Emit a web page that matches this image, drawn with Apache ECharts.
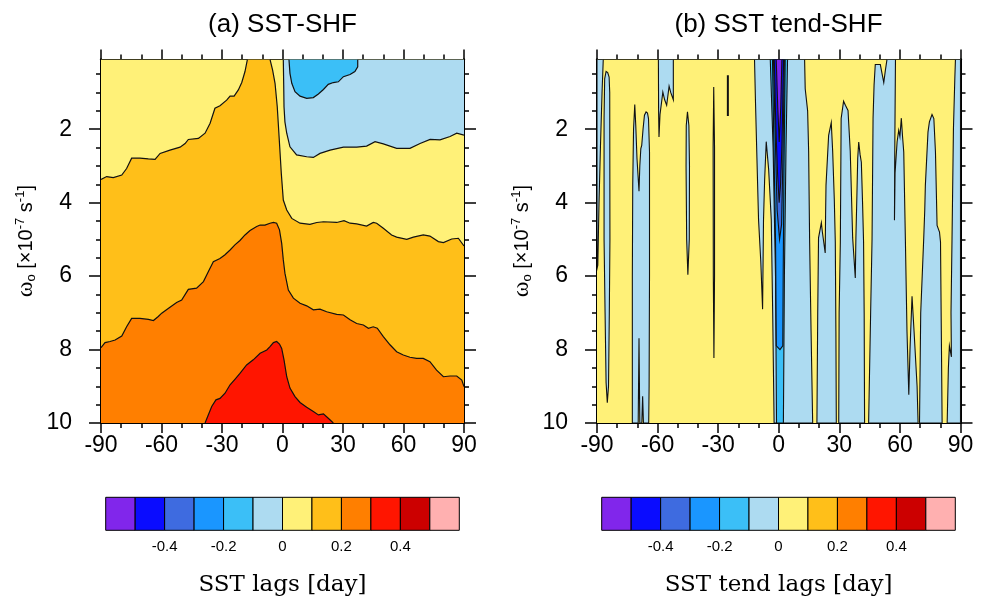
<!DOCTYPE html>
<html>
<head>
<meta charset="utf-8">
<script src="https://cdn.jsdelivr.net/npm/echarts@6/dist/echarts.min.js"></script>
<style>
html,body{margin:0;padding:0;background:#fff}
#chart{width:986px;height:599px}
</style>
</head>
<body>
<div id="chart"></div>
<script>
// ---------- axes ----------
const lagTicks = [-90, -60, -30, 0, 30, 60, 90];
const omegaMajor = [2, 4, 6, 8, 10];
const omegaMinor = [0.5, 1, 1.5, 2.5, 3, 3.5, 4.5, 5, 5.5, 6.5, 7, 7.5, 8.5, 9, 9.5];

// ---------- contour levels (colour bar) ----------
const levelEdges = [-0.6, -0.5, -0.4, -0.3, -0.2, -0.1, 0, 0.1, 0.2, 0.3, 0.4, 0.5, 0.6];
const levelColors = ['#8126EB', '#0A0CFF', '#3E6BE0', '#1A96FF', '#3BBFF7', '#ADDBF1',
                     '#FFF178', '#FFBF19', '#FF7F00', '#FF1500', '#CC0000', '#FFB0B0'];
const levelTicks = [-0.4, -0.2, 0, 0.2, 0.4];

// ---------- (a) SST-SHF : contour lines [lag (day), omega_o] ----------
// 0.1 contour, west branch
const shfC01West = [[-90.0,3.37],[-87.2,3.29],[-83.9,3.32],[-79.7,3.25],[-77.3,3.07],[-74.8,2.79],[-70.7,2.79],
  [-66.5,2.81],[-63.2,2.82],[-60.7,2.66],[-55.8,2.57],[-50.8,2.49],[-48.3,2.39],[-46.7,2.28],[-41.7,2.25],
  [-38.4,2.11],[-35.9,1.84],[-33.5,1.43],[-31.0,1.36],[-27.7,1.21],[-26.0,1.10],[-24.0,1.10],[-21.9,0.93],
  [-20.2,0.73],[-18.6,0.43],[-17.4,0.1]];
// 0.1 contour, east branch
const shfC01East = [[-6.2,0.1],[-4.9,0.39],[-3.7,0.75],[-2.6,1.39],[-1.6,2.29],[-0.6,3.20],[0.4,3.93],[2.1,4.20],
  [4.6,4.43],[8.7,4.56],[13.6,4.59],[17.0,4.54],[20.3,4.52],[26.9,4.54],[30.5,4.49],[33.5,4.56],[36.8,4.58],
  [41.7,4.64],[45.0,4.54],[46.7,4.56],[50.0,4.70],[54.1,4.88],[56.6,4.94],[61.6,5.00],[64.9,4.94],[69.8,4.88],
  [73.1,4.91],[77.3,5.06],[79.8,5.09],[83.9,4.99],[87.2,4.97],[90.0,5.18]];
// 0 contour
const shfC00 = [[0.4,0.1],[0.6,0.8],[0.75,1.39],[1.2,1.8],[2.1,2.11],[3.7,2.48],[7.0,2.70],[12.0,2.75],[15.3,2.77],
  [18.6,2.66],[23.6,2.57],[30.2,2.49],[36.8,2.49],[41.7,2.46],[45.9,2.34],[50.0,2.40],[56.6,2.52],[63.2,2.52],
  [68.2,2.39],[73.2,2.28],[78.1,2.29],[83.1,2.20],[86.4,2.11],[90.0,2.16]];
// -0.1 contour
const shfCm01 = [[3.2,0.1],[3.7,0.48],[4.6,0.75],[6.2,0.98],[8.7,1.10],[12.0,1.16],[15.3,1.14],[17.8,1.04],
  [20.3,0.92],[22.7,0.78],[25.2,0.73],[27.7,0.71],[30.2,0.57],[33.5,0.51],[35.9,0.43],[37.3,0.30],[37.3,0.1]];
// 0.2 contour
const shfC02 = [[-90.0,7.95],[-88.0,7.81],[-85.5,7.78],[-83.0,7.74],[-79.7,7.63],[-77.3,7.38],[-74.8,7.15],
  [-70.7,7.15],[-66.5,7.18],[-64.0,7.21],[-61.6,7.10],[-59.9,7.01],[-55.8,6.85],[-52.5,6.72],[-50.0,6.65],
  [-46.7,6.36],[-42.6,6.33],[-39.2,6.15],[-36.8,5.88],[-34.3,5.61],[-31.0,5.52],[-28.5,5.42],[-26.0,5.29],
  [-23.6,5.15],[-21.1,5.03],[-18.6,4.88],[-16.1,4.76],[-12.8,4.65],[-11.1,4.61],[-8.7,4.61],[-6.2,4.56],
  [-4.5,4.54],[-2.9,4.56],[-1.5,4.74],[-0.4,5.11],[0.4,5.56],[1.2,5.92],[2.9,6.38],[5.4,6.60],[8.7,6.74],
  [12.0,6.81],[15.3,6.92],[18.6,6.90],[21.9,6.97],[26.9,7.04],[30.2,7.06],[33.5,7.19],[36.8,7.29],[40.1,7.33],
  [42.6,7.42],[45.0,7.38],[47.0,7.42],[50.0,7.65],[53.3,7.87],[56.6,8.06],[59.9,8.15],[63.2,8.21],[66.5,8.24],
  [69.8,8.24],[73.1,8.33],[76.4,8.56],[79.8,8.74],[83.1,8.72],[86.4,8.72],[88.9,8.83],[90.0,9.01]];
// 0.3 contour
const shfC03 = [[-38.4,10.0],[-36.8,9.78],[-35.1,9.55],[-33.0,9.37],[-31.0,9.33],[-28.5,9.19],[-26.0,8.96],
  [-23.6,8.81],[-21.1,8.65],[-17.8,8.42],[-14.5,8.28],[-11.1,8.10],[-7.8,8.01],[-6.2,7.92],[-4.5,7.81],
  [-2.9,7.78],[-1.5,7.85],[-0.4,7.97],[0.75,8.28],[2.1,8.74],[3.7,9.05],[6.2,9.28],[8.7,9.44],[12.0,9.57],
  [15.3,9.69],[17.8,9.78],[20.3,9.75],[22.7,9.87],[25.2,10.0]];

// ---------- (b) SST tend-SHF : regions below 0 (outlines) ----------
const tendWestEdge = [[-90,0.1],[-86.9,0.1],[-87.5,1.0],[-88.3,2.5],[-89.0,4.0],[-89.6,5.7],[-90,5.8]];
const tendLensA = [[-85.5,0.43],[-84.7,0.46],[-84.0,0.58],[-83.7,1.0],[-83.6,5.0],[-83.9,7.0],[-84.3,9.0],
  [-84.9,9.45],[-85.5,8.9],[-86.0,7.0],[-86.5,5.0],[-86.5,1.7],[-86.2,0.63]];
const tendColumnB = [[-72.5,10],[-72.5,6],[-72.3,3.5],[-71.9,2.0],[-71.3,1.33],[-70.8,1.9],[-70.2,2.8],
  [-69.2,3.69],[-68.8,3.0],[-68.3,2.53],[-67.85,2.44],[-67.2,2.0],[-66.5,1.62],[-65.7,1.53],[-65.0,1.56],
  [-64.5,1.71],[-64.0,2.62],[-64.0,6],[-64.2,9],[-64.4,10],[-67.0,10],[-67.4,9.27],[-67.8,10],[-68.8,10],
  [-69.2,7.69],[-69.6,10]];
const tendHangC = [[-59.6,0.1],[-59.5,1.5],[-59.3,2.21],[-58.8,1.6],[-57.4,0.99],[-56.5,1.2],[-55.5,1.35],
  [-54.3,0.83],[-53.5,1.0],[-52.2,1.2],[-52.2,0.1]];
const tendLensD = [[-45.2,1.53],[-44.5,1.9],[-44.2,3.0],[-44.3,5.0],[-45.0,5.96],[-45.6,5.0],[-45.9,3.0],[-45.8,1.9]];
const tendLensE = [[-32.2,0.85],[-31.8,2.5],[-31.8,6.0],[-32.1,8.23],[-32.4,6.0],[-32.5,2.5]];
const tendDashF = [[-25.2,0.53],[-25.2,1.64]];
const tendCore = [[-12.0,0.1],[12.8,0.1],[13.1,0.9],[14.3,1.5],[14.8,2.6],[15.3,5.1],[16.0,7.5],[16.8,10],
  [-2.3,10],[-3.0,7.0],[-3.7,4.47],[-5.0,3.1],[-6.2,2.34],[-7.0,3.4],[-7.55,4.47],[-8.0,6.9],[-8.9,5.6],
  [-10.0,4.47],[-10.8,2.8],[-11.5,1.3]];
const tendSpikeG = [[18.9,10],[19.3,7],[19.7,4.96],[21.1,4.55],[21.6,4.8],[23.0,5.37],[23.2,4.3],[23.4,3.53],
  [24.7,2.17],[26.0,1.82],[26.7,2.6],[27.5,3.9],[28.0,5.07],[28.3,7.5],[28.5,10]];
const tendSpikeH = [[29.7,10],[29.9,7],[30.5,5.07],[30.9,1.71],[32.1,1.24],[33.0,1.35],[34.3,1.49],[35.4,2.6],
  [36.6,4.96],[37.9,6.05],[38.2,4.96],[38.7,3.8],[39.1,2.8],[39.6,2.35],[40.3,2.7],[40.9,2.9],[41.5,4.0],
  [42.0,5.07],[42.3,7],[42.5,10]];
const tendBlockI = [[44.5,10],[45.5,7],[46.2,5.0],[46.7,1.7],[47.2,0.8],[47.8,0.24],[50.3,0.24],[51.2,0.5],
  [52.0,0.73],[52.8,0.4],[53.6,0.1],[57.8,0.1],[57.6,1.5],[57.4,3.0],[57.3,4.48],[57.6,3.2],[58.6,2.35],
  [59.4,2.03],[60.0,2.2],[60.7,1.7],[61.3,2.2],[61.9,2.62],[62.7,5.0],[63.5,7.5],[64.4,9.23],[65.0,8.0],
  [66.0,6.55],[67.0,7.5],[68.5,9.0],[69.0,10]];
const tendSpikeJ = [[69.7,10],[70.3,7],[71.8,4.96],[72.3,4.2],[72.6,3.53],[73.9,2.08],[74.6,1.8],[75.9,1.6],
  [76.8,1.71],[77.6,2.62],[78.4,4.62],[79.6,4.8],[80.1,5.07],[80.5,7.5],[80.9,10]];
const tendEastEdge = [[87.5,0.1],[90,0.1],[90,10],[83.4,10],[84.0,8.5],[84.5,7.9],[85.5,8.2],[85.3,7.0],
  [85.8,5.0],[86.5,2.0],[87.2,0.6]];
// deeper negative levels around zero lag
const tendCoreM01 = [[-4.2,0.1],[4.35,0.1],[3.6,2.5],[2.8,6],[2.3,10],[-1.1,10],[-1.6,6],[-2.8,2.5]];
const tendCoreM02 = [[-3.1,0.1],[3.2,0.1],[2.6,3],[2.2,6],[2.0,7.9],[0.6,8.0],[-1.2,7.9],[-1.6,5],[-2.4,2.5]];
const tendCoreM03 = [[-2.6,0.1],[2.8,0.1],[2.0,3],[1.4,4.6],[0.4,5.0],[-0.8,4.2],[-1.6,2.5]];
const tendCoreM04 = [[-2.2,0.1],[2.4,0.1],[1.6,2.4],[0.9,3.5],[0.2,4.0],[-0.6,3.2],[-1.4,2.0]];
const tendCoreM05 = [[-1.26,0.1],[1.56,0.1],[1.0,1.4],[0.23,2.35],[-0.5,1.4]];

// ---------- helpers ----------
const FONT = 'Liberation Sans';
const INK = '#000';
const domain = [[-90,0.1],[90,0.1],[90,10],[-90,10]];
const col = v => levelColors[levelEdges.findIndex((e, i) => v >= e && v < levelEdges[i + 1])];

function fillSeries(panel, pts, fill, outline) {
  return {
    type: 'custom', coordinateSystem: 'cartesian2d', silent: true, clip: true,
    xAxisIndex: panel * 2, yAxisIndex: panel * 4, data: [[0, 1]],
    renderItem: (params, api) => ({
      type: 'polygon',
      shape: { points: pts.map(p => api.coord(p)) },
      style: { fill: fill, stroke: outline ? '#111' : null, lineWidth: 1.1 }
    })
  };
}
function lineSeries(panel, pts, w) {
  return {
    type: 'custom', coordinateSystem: 'cartesian2d', silent: true, clip: true,
    xAxisIndex: panel * 2, yAxisIndex: panel * 4, data: [[0, 1]],
    renderItem: (params, api) => ({
      type: 'polyline',
      shape: { points: pts.map(p => api.coord(p)) },
      style: { stroke: '#111', fill: null, lineWidth: w || 1.2 }
    })
  };
}
function colorBarSeries(idx) {
  return {
    type: 'custom', coordinateSystem: 'cartesian2d', silent: true,
    xAxisIndex: 4 + idx, yAxisIndex: 8 + idx,
    encode: { x: [0, 1] },
    data: levelColors.map((c, i) => [levelEdges[i], levelEdges[i + 1], i]),
    renderItem: (params, api) => {
      const a = api.coord([api.value(0), 1]);
      const b = api.coord([api.value(1), 0]);
      return {
        type: 'rect',
        shape: { x: a[0], y: a[1], width: b[0] - a[0], height: b[1] - a[1] },
        style: { fill: levelColors[api.value(2)], stroke: '#000', lineWidth: 1 }
      };
    }
  };
}

// ---------- axes ----------
const frameLine = { show: true, onZero: false, lineStyle: { color: INK, width: 2 } };
const tickStyle = { color: INK, width: 1.5 };
const xAxes = [], yAxes = [];
const omegaName = '{w|ω}{sub|o}{t| [×10}{sup|-7}{t| s}{sup|-1}{t|]}';
[0, 1].forEach(g => {
  ['bottom', 'top'].forEach(pos => {
    xAxes.push({
      gridIndex: g, type: 'value', position: pos, min: lagTicks[0], max: lagTicks[lagTicks.length - 1],
      interval: lagTicks[1] - lagTicks[0],
      axisLine: frameLine,
      axisTick: { show: true, inside: false, length: 10, lineStyle: tickStyle },
      minorTick: { show: true, splitNumber: 3, length: 5, lineStyle: tickStyle },
      splitLine: { show: false }, minorSplitLine: { show: false },
      axisLabel: { show: pos === 'bottom', fontFamily: FONT, fontSize: 23, color: INK, margin: 11 }
    });
  });
  ['left', 'right'].forEach(pos => {
    yAxes.push({
      gridIndex: g, type: 'value', position: pos, min: 0.1, max: 10, inverse: true,
      axisLine: frameLine,
      axisTick: { show: true, length: 12, customValues: omegaMajor, lineStyle: tickStyle },
      axisLabel: { show: pos === 'left', customValues: omegaMajor, fontFamily: FONT, fontSize: 23, color: INK, margin: 29 },
      splitLine: { show: false },
      name: pos === 'left' ? omegaName : '',
      nameLocation: 'middle', nameRotate: 90, nameGap: 63,
      nameTextStyle: {
        color: INK, fontFamily: FONT, fontSize: 20,
        rich: {
          w: { fontFamily: 'Liberation Serif', fontSize: 24, color: INK },
          t: { fontFamily: FONT, fontSize: 20, color: INK },
          sub: { fontFamily: FONT, fontSize: 13, color: INK, verticalAlign: 'bottom', lineHeight: 24 },
          sup: { fontFamily: FONT, fontSize: 13, color: INK, verticalAlign: 'top', lineHeight: 24 }
        }
      }
    });
    yAxes.push({
      gridIndex: g, type: 'value', position: pos, min: 0.1, max: 10, inverse: true,
      axisLine: frameLine,
      axisTick: { show: true, length: 5, customValues: omegaMinor, lineStyle: tickStyle },
      axisLabel: { show: false }, splitLine: { show: false }
    });
  });
});
[2, 3].forEach(g => {
  xAxes.push({
    gridIndex: g, type: 'value', min: levelEdges[0], max: levelEdges[levelEdges.length - 1],
    axisLine: { show: false }, axisTick: { show: false }, splitLine: { show: false },
    axisLabel: { customValues: levelTicks, fontFamily: FONT, fontSize: 15, color: INK, margin: 9 }
  });
  yAxes.push({ gridIndex: g, type: 'value', min: 0, max: 1, show: false });
});

// ---------- series ----------
const series = [
  // (a)
  fillSeries(0, domain, col(0.05), false),
  fillSeries(0, [...shfC01West, ...shfC01East, [90,10], [-90,10]], col(0.15), false),
  fillSeries(0, [...shfC02, [90,10], [-90,10]], col(0.25), false),
  fillSeries(0, shfC03, col(0.35), false),
  fillSeries(0, [...shfC00, [90,0.1]], col(-0.05), false),
  fillSeries(0, shfCm01, col(-0.15), false),
  lineSeries(0, shfC01West), lineSeries(0, shfC01East), lineSeries(0, shfC00),
  lineSeries(0, shfCm01), lineSeries(0, shfC02), lineSeries(0, shfC03),
  // (b)
  fillSeries(1, domain, col(0.05), false),
  ...[tendWestEdge, tendLensA, tendColumnB, tendHangC, tendLensD, tendLensE, tendCore,
      tendSpikeG, tendSpikeH, tendBlockI, tendSpikeJ, tendEastEdge].map(p => fillSeries(1, p, col(-0.05), true)),
  lineSeries(1, tendDashF, 2),
  fillSeries(1, tendCoreM01, col(-0.15), true),
  fillSeries(1, tendCoreM02, col(-0.25), true),
  fillSeries(1, tendCoreM03, col(-0.35), true),
  fillSeries(1, tendCoreM04, col(-0.45), true),
  fillSeries(1, tendCoreM05, col(-0.55), true),
  // colour bars
  colorBarSeries(0), colorBarSeries(1)
];

const txt = (x, y, text, font) => ({
  type: 'text', x: x, y: y, silent: true,
  style: { text: text, font: font, fill: INK, align: 'center', verticalAlign: 'middle',
           textAlign: 'center', textVerticalAlign: 'middle' }
});

const chart = echarts.init(document.getElementById('chart'), null, { renderer: 'canvas' });
chart.setOption({
  animation: false,
  backgroundColor: '#fff',
  grid: [
    { left: 101, top: 59.4, width: 363, height: 363.6 },
    { left: 597, top: 59.4, width: 363.5, height: 363.6 },
    { left: 105.7, top: 497.3, width: 353.6, height: 33 },
    { left: 601.7, top: 497.3, width: 353.6, height: 33 }
  ],
  xAxis: xAxes,
  yAxis: yAxes,
  series: series,
  graphic: [
    txt(282.5, 25, '(a) SST-SHF', '26px "Liberation Sans"'),
    txt(778.5, 25, '(b) SST tend-SHF', '26px "Liberation Sans"'),
    txt(282.5, 585, 'SST lags [day]', '23px "DejaVu Serif"'),
    txt(778.5, 585, 'SST tend lags [day]', '23px "DejaVu Serif"')
  ]
});
</script>
</body>
</html>
